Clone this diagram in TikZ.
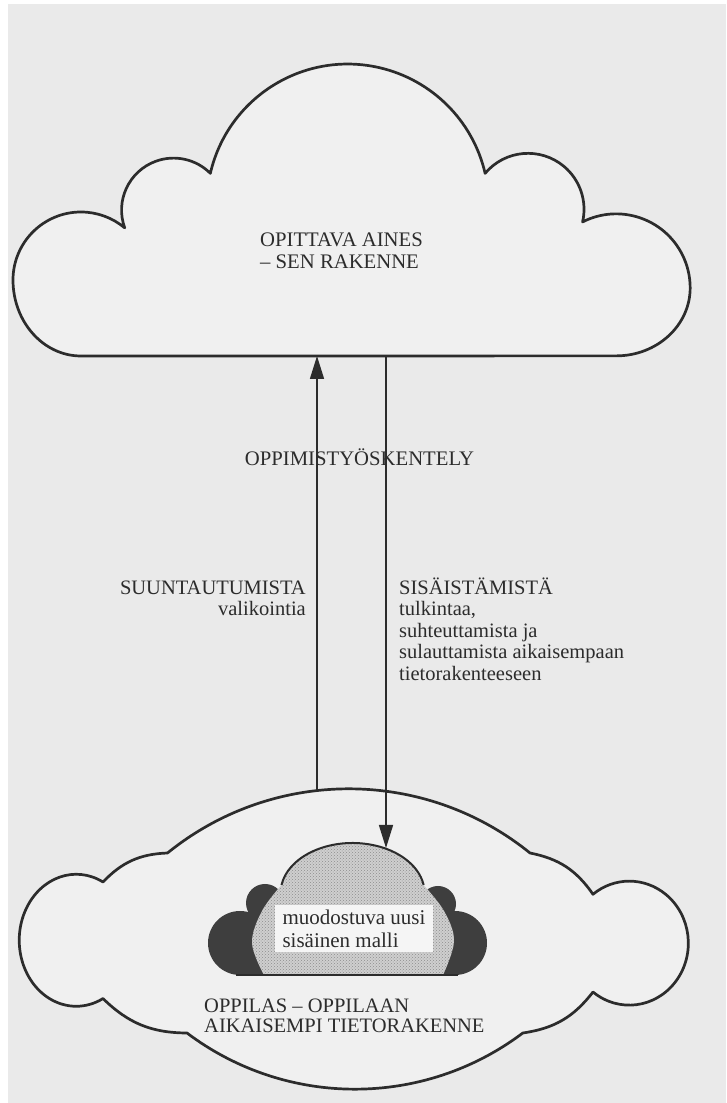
\documentclass[tikz,border=0pt]{standalone}
\usepackage{fontspec}
\setmainfont{Liberation Serif}
\usetikzlibrary{arrows.meta,patterns}
\definecolor{paper}{HTML}{EAEAEA}
\definecolor{cloudfill}{HTML}{F0F0F0}
\definecolor{ink}{HTML}{2C2C2C}
\definecolor{darkblob}{HTML}{3E3E3E}
\definecolor{dotfill}{HTML}{CFCFCF}
\newcommand{\tstr}{\rule{0pt}{17pt}}
\begin{document}
\begin{tikzpicture}[x=1pt,y=1pt,
  outline/.style={draw=ink, line width=2.7pt, line join=round, fill=cloudfill},
  arr/.style={draw=ink, line width=1.5pt, -{Triangle[length=23pt,width=14pt]}},
  lbl/.style={font=\fontsize{20.7}{22}\selectfont, text=ink, inner sep=0pt},
]
\useasboundingbox (0,0) rectangle (726,1103);
\fill[white] (0,0) rectangle (726,1103);
\fill[paper] (8,0) rectangle (726,1099);

% upper cloud
\path[outline] (81,747) arc[start angle=270,end angle=180,x radius=68pt,y radius=76pt]
  arc[start angle=180,end angle=50,radius=68pt]
  arc[start angle=200,end angle=45,radius=52pt]
  arc[start angle=167,end angle=13,radius=141pt]
  arc[start angle=140,end angle=-13,radius=56pt]
  arc[start angle=117,end angle=0,radius=74pt]
  arc[start angle=0,end angle=-90,x radius=74pt,y radius=68pt]
  -- cycle;
\coordinate (tcUp) at (317,747);
\coordinate (tcDown) at (386,747);

% lower cloud
\path[outline] (530,250) arc[start angle=51,end angle=129,radius=288pt]
  to[bend right=22] (103,221)
  arc[start angle=62,end angle=298,x radius=57pt,y radius=66pt]
  to[bend right=22] (187,70)
  arc[start angle=233,end angle=307,radius=279pt]
  to[bend right=22] (593,111)
  arc[start angle=232,end angle=488,x radius=59pt,y radius=62pt]
  to[bend right=22] (530,250) -- cycle;
\coordinate (bcTop) at (317,312.4);

% inner cloud
\fill[darkblob] (240,160) circle[radius=32pt];
\fill[darkblob] (455,160) circle[radius=32pt];
\fill[darkblob] (265,200) circle[radius=19pt];
\fill[darkblob] (438,199) circle[radius=18pt];
\fill[darkblob] (240,128) rectangle (455,175);
\path[fill=dotfill, postaction={pattern=crosshatch dots, pattern color=black!45}]
  plot[smooth,tension=0.6] coordinates {(264,128) (252,160) (262,192) (281.5,218)}
  arc[start angle=170.8,end angle=9.2,x radius=72pt,y radius=50pt]
  -- plot[smooth,tension=0.6] coordinates {(423.5,218) (444,192) (454,162) (443,128)} -- cycle;
\draw[ink, line width=2pt] (281.5,218) arc[start angle=170.8,end angle=9.2,x radius=72pt,y radius=50pt];
\draw[ink, line width=1.8pt] (236,128) -- (458,128);
\coordinate (icTop) at (386,255);

\node[lbl, fill=white!96!black, minimum width=158pt, minimum height=47pt, align=left,
  font=\fontsize{21}{23}\selectfont] (model) at (354,174.5) {muodostuva uusi\\sisäinen malli};

% arrows
\draw[arr] (bcTop) -- (tcUp);
\draw[arr] (tcDown) -- (icTop);

% labels
\node[lbl, anchor=north west, align=left] (matter) at (260,873.2) {\tstr OPITTAVA AINES\\– SEN RAKENNE};
\node[lbl, anchor=base] (work) at (359.5,637) {OPPIMISTYÖSKENTELY};
\node[lbl, anchor=north east, align=right, font=\fontsize{20.5}{21.5}\selectfont] (orient) at (306,525.7) {\tstr SUUNTAUTUMISTA\\valikointia};
\node[lbl, anchor=north west, align=left, font=\fontsize{20.5}{21.5}\selectfont] (intern) at (399,525.7) {\tstr SISÄISTÄMISTÄ\\tulkintaa,\\suhteuttamista ja\\sulauttamista aikaisempaan\\tietorakenteeseen};
\node[lbl, anchor=north west, align=left, font=\fontsize{20.5}{20.5}\selectfont] (pupil) at (204,108) {\tstr OPPILAS – OPPILAAN\\AIKAISEMPI TIETORAKENNE};
\end{tikzpicture}
\end{document}
